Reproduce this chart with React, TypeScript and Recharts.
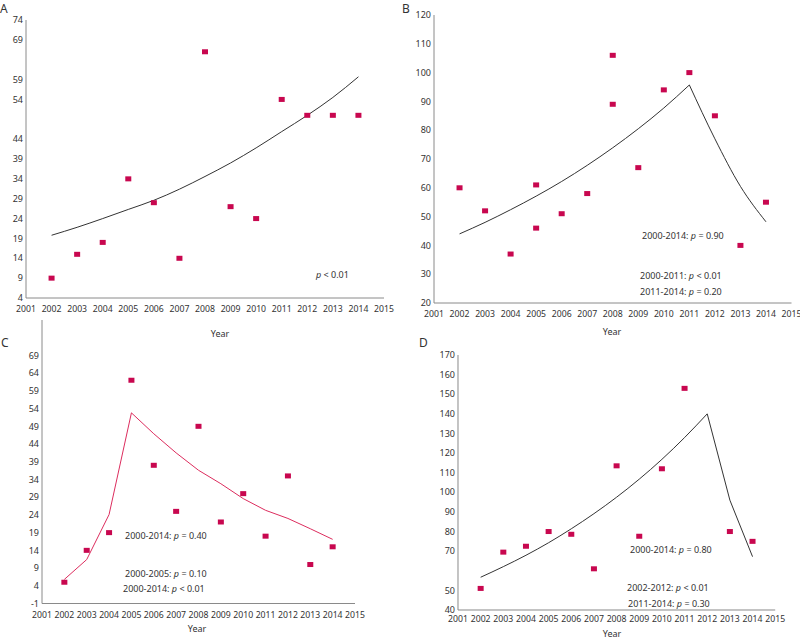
import React from "react";
import {
  ComposedChart,
  Line,
  Scatter,
  XAxis,
  YAxis,
} from "recharts";

const xTicks = [2001, 2002, 2003, 2004, 2005, 2006, 2007, 2008, 2009, 2010, 2011, 2012, 2013, 2014, 2015];
const years = [2002, 2003, 2004, 2005, 2006, 2007, 2008, 2009, 2010, 2011, 2012, 2013, 2014];

// A
const aTicks = [4, 9, 14, 19, 24, 29, 34, 39, 44, 54, 59, 69, 74];
const aValues = [9, 15, 18, 34, 28, 14, 66, 27, 24, 54, 50, 50, 50];
const aTrend = [19.8, 21.8, 24, 26.3, 28.6, 31.4, 34.6, 38, 41.8, 45.9, 50, 54.5, 59.7];

// B
const bTicks = [20, 30, 40, 50, 60, 70, 80, 90, 100, 110, 120];
const bYears = [2002, 2003, 2004, 2005, 2005, 2006, 2007, 2008, 2008, 2009, 2010, 2011, 2012, 2013, 2014];
const bValues = [60, 52, 37, 61, 46, 51, 58, 106, 89, 67, 94, 100, 85, 40, 55];
const bRiseYears = [2002, 2003, 2004, 2005, 2006, 2007, 2008, 2009, 2010, 2011];
const bRise = [44, 48, 52.4, 57.1, 62.2, 67.8, 73.9, 80.5, 87.7, 95.7];
const bFallYears = [2011, 2012, 2013, 2014];
const bFall = [95.7, 77, 60.5, 48.2];

// C
const cTicks = [-1, 4, 9, 14, 19, 24, 29, 34, 39, 44, 49, 54, 59, 64, 69];
const cValues = [5, 14, 19, 62, 38, 25, 49, 22, 30, 18, 35, 10, 15];
const cTrend = [5.8, 11.4, 24.1, 52.8, 46.9, 41.5, 36.6, 32.8, 28.6, 25.3, 23, 20.1, 17.1];

// D
const dTicks = [40, 50, 70, 80, 90, 100, 110, 120, 130, 140, 150, 160, 170];
const dYears = [2002, 2003, 2004, 2005, 2006, 2007, 2008, 2009, 2010, 2011, 2013, 2014];
const dValues = [51, 69.5, 72.5, 80, 78.6, 61, 113.5, 77.6, 112, 153, 80, 75];
const dRiseYears = [2002, 2003, 2004, 2005, 2006, 2007, 2008, 2009, 2010, 2011, 2012];
const dRise = [56.7, 62.1, 67.9, 74.3, 81.4, 89.1, 97.5, 106.7, 116.8, 127.9, 140];
const dFallYears = [2012, 2013, 2014];
const dFall = [140, 96, 67.2];

const FONT = "'Noto Sans', 'Open Sans', sans-serif";
const MARK = "#c8074f";
const AXIS = "#8a8a8a";

const toPoints = (xs: number[], ys: number[]) => xs.map((x, i) => ({ year: x, value: ys[i] }));

const Marker = (props: any) => {
  const { cx, cy } = props;
  if (cx == null || cy == null) return null;
  return <rect x={cx - 3} y={cy - 2.5} width={6} height={5} fill={MARK} />;
};

type Seg = { data: Array<{ year: number; value: number }>; type: "linear" | "monotone" };

function Panel({
  box,
  domain,
  ticks,
  points,
  trends,
  trendColor,
  xMargin = 5,
}: {
  box: { l: number; r: number; t: number; b: number };
  domain: [number, number];
  ticks: number[];
  points: Array<{ year: number; value: number }>;
  trends: Seg[];
  trendColor: string;
  xMargin?: number;
}) {
  const yW = 30;
  const mt = 10;
  const mr = 14;
  const xH = 24;
  const width = box.r - box.l + yW + mr;
  const height = box.b - box.t + mt + xH;
  return (
    <div style={{ position: "absolute", left: box.l - yW, top: box.t - mt }}>
      <ComposedChart width={width} height={height} margin={{ top: mt, right: mr, bottom: 0, left: 0 }}>
        <XAxis
          type="number"
          dataKey="year"
          domain={[2001, 2015]}
          ticks={xTicks}
          interval={0}
          tickLine={false}
          tickSize={3}
          tickMargin={xMargin}
          height={xH}
          stroke={AXIS}
          tick={{ fill: "#333", fontSize: 8.7, fontFamily: FONT }}
          allowDuplicatedCategory
        />
        <YAxis
          type="number"
          domain={domain}
          ticks={ticks}
          interval={0}
          tickLine={false}
          tickSize={3}
          tickMargin={0}
          width={yW}
          stroke={AXIS}
          tick={{ fill: "#333", fontSize: 9, fontFamily: FONT }}
          allowDataOverflow
        />
        {trends.map((seg, i) => (
          <Line
            key={i}
            data={seg.data}
            dataKey="value"
            type={seg.type}
            stroke={trendColor}
            strokeWidth={1}
            dot={false}
            activeDot={false}
            isAnimationActive={false}
          />
        ))}
        <Scatter data={points} dataKey="value" shape={Marker} isAnimationActive={false} />
      </ComposedChart>
    </div>
  );
}

const Txt = ({ x, y, size = 9, children }: { x: number; y: number; size?: number; children: React.ReactNode }) => (
  <div
    style={{
      position: "absolute",
      left: x,
      top: y - 6,
      lineHeight: "12px",
      fontSize: size,
      fontFamily: FONT,
      color: "#333",
      whiteSpace: "nowrap",
    }}
  >
    {children}
  </div>
);

const Year = ({ cx, y }: { cx: number; y: number }) => (
  <div
    style={{
      position: "absolute",
      left: cx - 20,
      width: 40,
      textAlign: "center",
      top: y - 5,
      lineHeight: "10px",
      fontSize: 9,
      fontFamily: FONT,
      color: "#333",
    }}
  >
    Year
  </div>
);

const P = () => <i>p</i>;

export default function App() {
  return (
    <div style={{ position: "absolute", left: 0, top: 0, width: 800, height: 640, background: "#fff", overflow: "hidden" }}>
      <Panel
        box={{ l: 26, r: 384, t: 20, b: 298 }}
        domain={[4, 74]}
        ticks={aTicks}
        points={toPoints(years, aValues)}
        trends={[{ data: toPoints(years, aTrend), type: "monotone" }]}
        trendColor="#333"
      />
      <Panel
        box={{ l: 433.5, r: 791, t: 15, b: 303 }}
        domain={[20, 120]}
        ticks={bTicks}
        points={toPoints(bYears, bValues)}
        trends={[
          { data: toPoints(bRiseYears, bRise), type: "monotone" },
          { data: toPoints(bFallYears, bFall), type: "monotone" },
        ]}
        trendColor="#333"
      />
      <Panel
        box={{ l: 42, r: 355, t: 319.5, b: 603 }}
        domain={[-1, 79]}
        ticks={cTicks}
        points={toPoints(years, cValues)}
        trends={[{ data: toPoints(years, cTrend), type: "linear" }]}
        trendColor="#dc2d5e"
      />
      <Panel
        box={{ l: 458.3, r: 775.5, t: 355, b: 610 }}
        domain={[40, 170]}
        ticks={dTicks}
        points={toPoints(dYears, dValues)}
        trends={[
          { data: toPoints(dRiseYears, dRise), type: "monotone" },
          { data: toPoints(dFallYears, dFall), type: "linear" },
        ]}
        trendColor="#333"
        xMargin={3}
      />

      <Txt x={0} y={9} size={12}>A</Txt>
      <Txt x={402} y={9} size={12}>B</Txt>
      <Txt x={1} y={343} size={12}>C</Txt>
      <Txt x={419} y={343} size={12}>D</Txt>

      <Year cx={220} y={334} />
      <Year cx={612} y={332} />
      <Year cx={197} y={629} />
      <Year cx={612} y={634} />

      <Txt x={316} y={275}><P /> &lt; 0.01</Txt>

      <Txt x={642} y={236}>2000-2014: <P /> = 0.90</Txt>
      <Txt x={640} y={276}>2000-2011: <P /> &lt; 0.01</Txt>
      <Txt x={640} y={292}>2011-2014: <P /> = 0.20</Txt>

      <Txt x={125} y={536}>2000-2014: <P /> = 0.40</Txt>
      <Txt x={125} y={574}>2000-2005: <P /> = 0.10</Txt>
      <Txt x={123} y={589}>2000-2014: <P /> &lt; 0.01</Txt>

      <Txt x={630} y={550}>2000-2014: <P /> = 0.80</Txt>
      <Txt x={627} y={588}>2002-2012: <P /> &lt; 0.01</Txt>
      <Txt x={628} y={604}>2011-2014: <P /> = 0.30</Txt>
    </div>
  );
}
